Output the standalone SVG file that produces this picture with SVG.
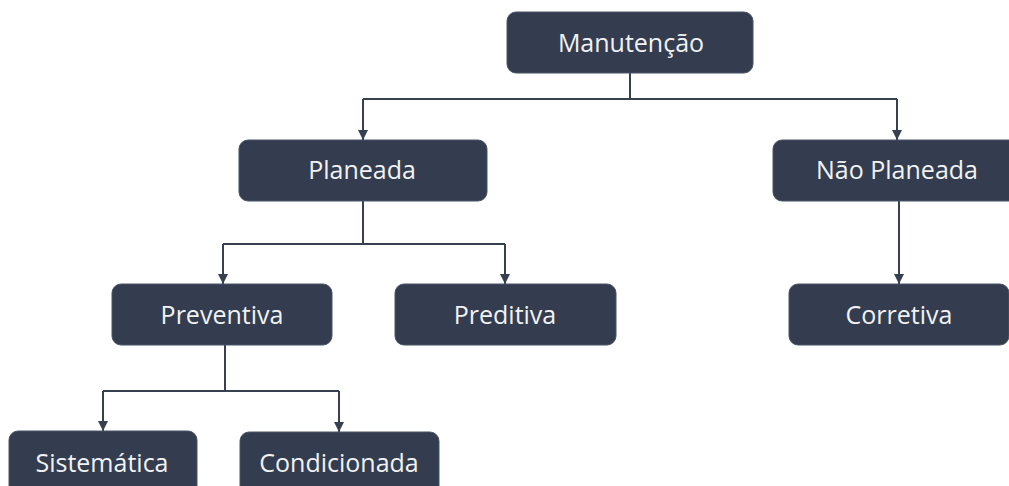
<svg xmlns="http://www.w3.org/2000/svg" width="1009" height="486" viewBox="0 0 1009 486">
  <style>
    .box { fill: #333d4f; stroke: #4a5466; stroke-width: 1; }
    .lbl { font-family: "Open Sans", "DejaVu Sans", sans-serif; font-size: 25px; fill: #f2f2f2; text-anchor: middle; }
    .wire { fill: none; stroke: #36404f; stroke-width: 2; }
  </style>
  <defs>
    <marker id="arrow" viewBox="0 0 10 10" refX="10" refY="5" markerWidth="10" markerHeight="10" markerUnits="userSpaceOnUse" orient="auto">
      <path d="M0,0 L10,5 L0,10 Z" fill="#36404f"/>
    </marker>
  </defs>
  <rect width="1009" height="486" fill="#ffffff"/>

  <g id="connectors">
    <path class="wire" d="M630,73 V99 M363,99 H897"/>
    <path class="wire" d="M363,99 V140" marker-end="url(#arrow)"/>
    <path class="wire" d="M897,99 V140" marker-end="url(#arrow)"/>
    <path class="wire" d="M363,201 V244 M223,244 H505"/>
    <path class="wire" d="M223,244 V284" marker-end="url(#arrow)"/>
    <path class="wire" d="M505,244 V284" marker-end="url(#arrow)"/>
    <path class="wire" d="M899,201 V284" marker-end="url(#arrow)"/>
    <path class="wire" d="M225,345 V391 M103,391 H339"/>
    <path class="wire" d="M103,391 V431" marker-end="url(#arrow)"/>
    <path class="wire" d="M339,391 V432" marker-end="url(#arrow)"/>
  </g>

  <g id="manutencao">
    <rect class="box" x="507" y="12" width="246" height="61" rx="9"/>
    <text class="lbl" x="631" y="52">Manutenção</text>
  </g>
  <g id="planeada">
    <rect class="box" x="239" y="140" width="248" height="61" rx="9"/>
    <text class="lbl" x="362" y="179">Planeada</text>
  </g>
  <g id="nao-planeada">
    <rect class="box" x="773" y="140" width="250" height="61" rx="9"/>
    <text class="lbl" x="897" y="179">Não Planeada</text>
  </g>
  <g id="preventiva">
    <rect class="box" x="112" y="284" width="220" height="61" rx="9"/>
    <text class="lbl" x="222" y="324">Preventiva</text>
  </g>
  <g id="preditiva">
    <rect class="box" x="395" y="284" width="221" height="61" rx="9"/>
    <text class="lbl" x="505" y="324">Preditiva</text>
  </g>
  <g id="corretiva">
    <rect class="box" x="789" y="284" width="220" height="61" rx="9"/>
    <text class="lbl" x="899" y="324">Corretiva</text>
  </g>
  <g id="sistematica">
    <rect class="box" x="9" y="431" width="188" height="70" rx="9"/>
    <text class="lbl" x="102" y="472">Sistemática</text>
  </g>
  <g id="condicionada">
    <rect class="box" x="240" y="432" width="199" height="70" rx="9"/>
    <text class="lbl" x="339" y="472">Condicionada</text>
  </g>
</svg>
